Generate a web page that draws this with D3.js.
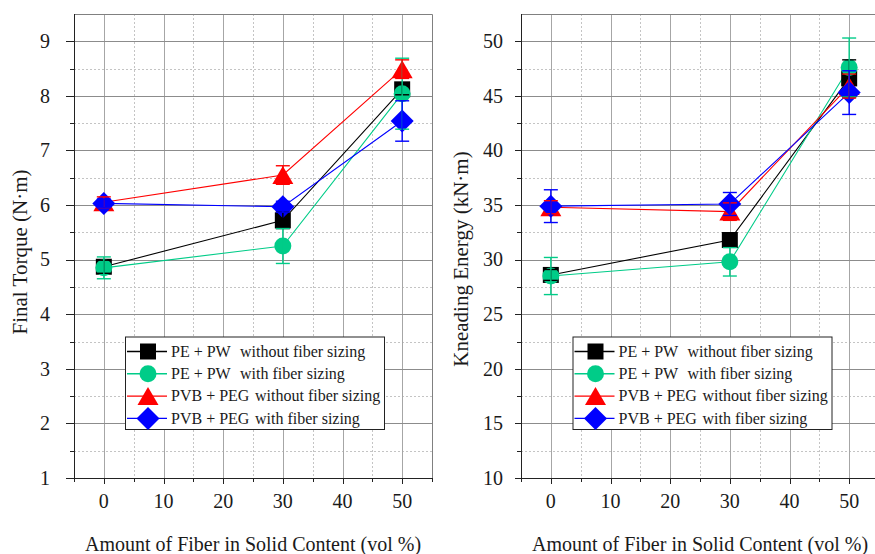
<!DOCTYPE html>
<html>
<head>
<meta charset="utf-8">
<script src="https://cdn.jsdelivr.net/npm/d3@7"></script>
<style>
  body { margin: 0; background: #fff; }
  svg { display: block; }
  svg text { font-family: "Liberation Serif", "Times New Roman", Times, Tinos, "Nimbus Roman", "Noto Serif", "DejaVu Serif", FreeSerif, serif; }
</style>
</head>
<body>
<svg id="chart" width="875" height="554"></svg>
<script>
// ---- data ----
const fiberContent = [0, 30, 50];                 // vol % fiber in solid content
const xTickValues = [0, 10, 20, 30, 40, 50];
const torqueTickValues = [1, 2, 3, 4, 5, 6, 7, 8, 9];
const energyTickValues = [10, 15, 20, 25, 30, 35, 40, 45, 50];

const seriesBinder = ["PE + PW", "PE + PW", "PVB + PEG", "PVB + PEG"];
const seriesSizing = ["without fiber sizing", "with fiber sizing", "without fiber sizing", "with fiber sizing"];
const seriesColors = ["#000000", "#00cc88", "#ff0000", "#0000ff"];
const seriesSymbols = ["square", "circle", "triangle", "diamond"];

// final torque (N·m), mean and error per series
const torqueMean = [
  [4.87, 5.72, 8.12],
  [4.85, 5.25, 8.04],
  [6.05, 6.55, 8.49],
  [6.03, 5.97, 7.54]
];
const torqueErr = [
  [0.12, 0.15, 0.10],
  [0.20, 0.32, 0.65],
  [0.10, 0.17, 0.17],
  [0.08, 0.10, 0.37]
];

// kneading energy (kN·m), mean and error per series
const energyMean = [
  [28.6, 31.8, 46.6],
  [28.5, 29.8, 47.6],
  [34.8, 34.4, 45.9],
  [34.9, 35.1, 45.3]
];
const energyErr = [
  [0.5, 0.6, 1.7],
  [1.7, 1.3, 2.7],
  [0.6, 0.8, 1.1],
  [1.5, 1.05, 2.0]
];

// ---- drawing ----
const svg = d3.select("#chart");

function symbolPath(kind) {
  switch (kind) {
    case "square":   return "M-8,-8H8V8H-8Z";
    case "circle":   return "M-8.5,0A8.5,8.5 0 1,0 8.5,0A8.5,8.5 0 1,0 -8.5,0Z";
    case "triangle": return "M0,-9L10.5,9L-10.5,9Z";
    case "diamond":  return "M0,-11.5L11.5,0L0,11.5L-11.5,0Z";
  }
}

function drawPanel(cfg) {
  const g = svg.append("g").attr("fill", "#1a1a1a");
  const x = d3.scaleLinear().domain([-5, 55]).range([cfg.left, cfg.right]);
  const y = d3.scaleLinear().domain(cfg.yDomain).range([478, 14]);
  const [x0, x1] = x.range();
  const [yb, yt] = y.range();

  const xMinor = d3.range(-5, 56, 5).filter(v => v % 10 !== 0);
  const yStep = cfg.yTicks[1] - cfg.yTicks[0];
  const yMinor = d3.range(cfg.yDomain[0] + yStep / 2, cfg.yDomain[1], yStep);

  // minor dotted grid
  g.selectAll(".xminor").data(xMinor.filter(v => v > -5 && v < 55)).join("line")
    .attr("x1", d => Math.round(x(d)) + 0.5).attr("x2", d => Math.round(x(d)) + 0.5)
    .attr("y1", yt).attr("y2", yb)
    .attr("stroke", "#c4c4c4").attr("stroke-dasharray", "2,2");
  g.selectAll(".yminor").data(yMinor).join("line")
    .attr("y1", d => Math.round(y(d)) + 0.5).attr("y2", d => Math.round(y(d)) + 0.5)
    .attr("x1", x0).attr("x2", x1)
    .attr("stroke", "#c4c4c4").attr("stroke-dasharray", "2,2");

  // major solid grid
  g.selectAll(".xmajor").data(xTickValues).join("line")
    .attr("x1", d => Math.round(x(d)) + 0.5).attr("x2", d => Math.round(x(d)) + 0.5)
    .attr("y1", yt).attr("y2", yb)
    .attr("stroke", "#a6a6a6");
  g.selectAll(".ymajor").data(cfg.yTicks).join("line")
    .attr("y1", d => Math.round(y(d)) + 0.5).attr("y2", d => Math.round(y(d)) + 0.5)
    .attr("x1", x0).attr("x2", x1)
    .attr("stroke", "#8c8c8c");

  // top and right frame
  g.append("path")
    .attr("d", `M${x0},${yt + 0.5}H${x1 + 0.5}V${yb}`)
    .attr("fill", "none").attr("stroke", "#808080");

  // axes: left and bottom, with outward major/minor ticks
  g.append("line").attr("x1", x0 + 0.5).attr("x2", x0 + 0.5).attr("y1", yt).attr("y2", yb + 0.5)
    .attr("stroke", "#222");
  g.append("line").attr("x1", x0).attr("x2", x1 + 0.5).attr("y1", yb + 0.5).attr("y2", yb + 0.5)
    .attr("stroke", "#222");

  g.selectAll(".ytick").data(cfg.yTicks).join("line")
    .attr("y1", d => Math.round(y(d)) + 0.5).attr("y2", d => Math.round(y(d)) + 0.5)
    .attr("x1", x0 - cfg.yMajorLen).attr("x2", x0).attr("stroke", "#222");
  g.selectAll(".ytickm").data(yMinor).join("line")
    .attr("y1", d => Math.round(y(d)) + 0.5).attr("y2", d => Math.round(y(d)) + 0.5)
    .attr("x1", x0 - 4).attr("x2", x0).attr("stroke", "#222");
  g.selectAll(".xtick").data(xTickValues).join("line")
    .attr("x1", d => Math.round(x(d)) + 0.5).attr("x2", d => Math.round(x(d)) + 0.5)
    .attr("y1", yb).attr("y2", yb + 6).attr("stroke", "#222");
  g.selectAll(".xtickm").data(xMinor).join("line")
    .attr("x1", d => Math.round(x(d)) + 0.5).attr("x2", d => Math.round(x(d)) + 0.5)
    .attr("y1", yb).attr("y2", yb + 4).attr("stroke", "#222");

  // tick labels
  g.selectAll(".xlab").data(xTickValues).join("text")
    .attr("x", d => x(d)).attr("y", 508)
    .attr("text-anchor", "middle").attr("font-size", 20)
    .text(d => d);
  g.selectAll(".ylab").data(cfg.yTicks).join("text")
    .attr("x", cfg.yLabelRight).attr("y", d => y(d)).attr("dy", "0.34em")
    .attr("text-anchor", "end").attr("font-size", 20)
    .text(d => d);

  // axis titles
  g.append("text")
    .attr("x", (x0 + x1) / 2).attr("y", 551)
    .attr("text-anchor", "middle").attr("font-size", 20)
    .text("Amount of Fiber in Solid Content (vol %)");
  g.append("text")
    .attr("transform", `translate(${cfg.yTitleX},${cfg.yTitleY}) rotate(-90)`)
    .attr("text-anchor", "middle").attr("font-size", 21)
    .text(cfg.yTitle);

  // series lines
  const line = d3.line().x((d, i) => x(fiberContent[i])).y(d => y(d));
  cfg.means.forEach((m, s) => {
    g.append("path").attr("d", line(m))
      .attr("fill", "none").attr("stroke", seriesColors[s]).attr("stroke-width", 1.1);
  });

  // markers
  cfg.means.forEach((m, s) => {
    g.selectAll(null).data(m).join("path")
      .attr("transform", (d, i) => `translate(${x(fiberContent[i])},${y(d)})`)
      .attr("d", symbolPath(seriesSymbols[s]))
      .attr("fill", seriesColors[s]);
  });

  // error bars
  cfg.means.forEach((m, s) => {
    const eb = g.selectAll(null).data(m.map((v, i) => ({ v, e: cfg.errs[s][i], xv: fiberContent[i] })))
      .join("g").attr("stroke", seriesColors[s]).attr("stroke-width", 1.4);
    eb.append("line")
      .attr("x1", d => x(d.xv)).attr("x2", d => x(d.xv))
      .attr("y1", d => y(d.v - d.e)).attr("y2", d => y(d.v + d.e));
    eb.append("line")
      .attr("x1", d => x(d.xv) - 7).attr("x2", d => x(d.xv) + 7)
      .attr("y1", d => y(d.v + d.e)).attr("y2", d => y(d.v + d.e));
    eb.append("line")
      .attr("x1", d => x(d.xv) - 7).attr("x2", d => x(d.xv) + 7)
      .attr("y1", d => y(d.v - d.e)).attr("y2", d => y(d.v - d.e));
  });

  // legend
  const lx = cfg.legendX, ly = 336.5;
  const leg = g.append("g").attr("transform", `translate(${lx},${ly})`);
  leg.append("rect").attr("x", 0.5).attr("y", 0.5).attr("width", 259).attr("height", 92.5)
    .attr("fill", "#fff").attr("stroke", "#222");
  seriesColors.forEach((c, s) => {
    const row = leg.append("g").attr("transform", `translate(0,${15 + s * 22.3})`);
    row.append("line").attr("x1", 2).attr("x2", 42).attr("stroke", c).attr("stroke-width", 1.4);
    row.append("path").attr("transform", "translate(23,0)")
      .attr("d", symbolPath(seriesSymbols[s])).attr("fill", c);
    row.append("text").attr("x", 46).attr("dy", "0.33em").attr("font-size", 16)
      .text(seriesBinder[s]);
    row.append("text").attr("x", seriesBinder[s] === "PE + PW" ? 115 : 130)
      .attr("dy", "0.33em").attr("font-size", 16)
      .text(seriesSizing[s]);
  });
}

drawPanel({
  left: 74, right: 432,
  yDomain: [1, 9.5], yTicks: torqueTickValues,
  yMajorLen: 8, yLabelRight: 50,
  yTitle: "Final Torque (N·m)", yTitleX: 27, yTitleY: 252,
  means: torqueMean, errs: torqueErr,
  legendX: 125
});

drawPanel({
  left: 521, right: 879,
  yDomain: [10, 52.5], yTicks: energyTickValues,
  yMajorLen: 6, yLabelRight: 503,
  yTitle: "Kneading Energy (kN·m)", yTitleX: 468, yTitleY: 259,
  means: energyMean, errs: energyErr,
  legendX: 572.5
});
</script>
</body>
</html>
